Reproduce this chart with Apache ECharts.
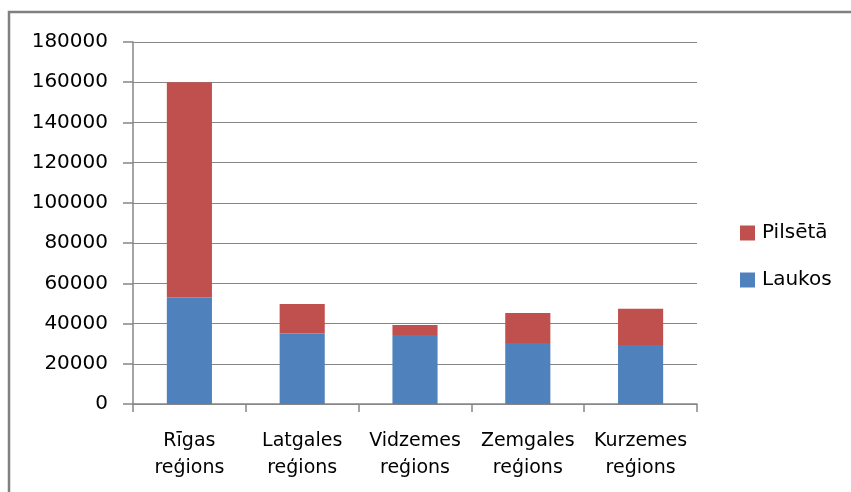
<!DOCTYPE html>
<html>
<head>
<meta charset="utf-8">
<script src="https://cdn.jsdelivr.net/npm/echarts@6/dist/echarts.min.js"></script>
<style>
  html, body { margin: 0; padding: 0; background: #fff; }
  #chart { width: 851px; height: 492px; }
</style>
</head>
<body>
<div id="chart"></div>
<script>
// data
const categories = ["Rīgas\nreģions", "Latgales\nreģions", "Vidzemes\nreģions", "Zemgales\nreģions", "Kurzemes\nreģions"];
const laukos = [53000, 35000, 34300, 30300, 29300];
const pilseta = [107000, 14700, 5000, 15000, 18000];
const yTicks = [0, 20000, 40000, 60000, 80000, 100000, 120000, 140000, 160000, 180000];

const font = "DejaVu Sans";
const axisGrey = "#868686";

const chart = echarts.init(document.getElementById("chart"));

const option = {
  animation: false,
  textStyle: { fontFamily: font },
  // outer chart frame, cut off at the right and bottom edges like the source image
  graphic: [
    {
      type: "rect",
      shape: { x: 9, y: 12, width: 900, height: 520 },
      style: { fill: "none", stroke: "#808080", lineWidth: 2.5 },
    },
  ],
  legend: {
    orient: "vertical",
    left: 740,
    top: 223,
    padding: 0,
    itemWidth: 15,
    itemHeight: 15,
    itemGap: 27,
    icon: "rect",
    data: ["Pilsētā", "Laukos"],
    textStyle: { fontFamily: font, fontSize: 20, color: "#000", padding: [0, 0, 0, 2] },
  },
  grid: { left: 133, right: 154, top: 42, bottom: 88 },
  xAxis: {
    type: "category",
    data: categories,
    axisLine: { lineStyle: { color: axisGrey, width: 1.5 } },
    axisTick: { show: true, interval: 0, length: 8, lineStyle: { color: axisGrey, width: 1.5 } },
    axisLabel: { interval: 0, color: "#000", fontSize: 19, fontFamily: font, margin: 24, lineHeight: 27 },
  },
  yAxis: {
    type: "value",
    min: yTicks[0],
    max: yTicks[yTicks.length - 1],
    interval: 20000,
    axisLine: { show: true, lineStyle: { color: axisGrey, width: 1.5 } },
    axisTick: { show: true, inside: false, length: 10, lineStyle: { color: axisGrey, width: 1.5 } },
    splitLine: { lineStyle: { color: axisGrey, width: 1 } },
    axisLabel: { color: "#000", fontSize: 20, fontFamily: font, margin: 25, formatter: (v) => String(v) },
  },
  series: [
    {
      name: "Laukos",
      type: "bar",
      stack: "total",
      barWidth: "40%",
      itemStyle: { color: "#4F81BD" },
      data: laukos,
    },
    {
      name: "Pilsētā",
      type: "bar",
      stack: "total",
      barWidth: "40%",
      itemStyle: { color: "#C0504D" },
      data: pilseta,
    },
  ],
};

chart.setOption(option);
</script>
</body>
</html>
